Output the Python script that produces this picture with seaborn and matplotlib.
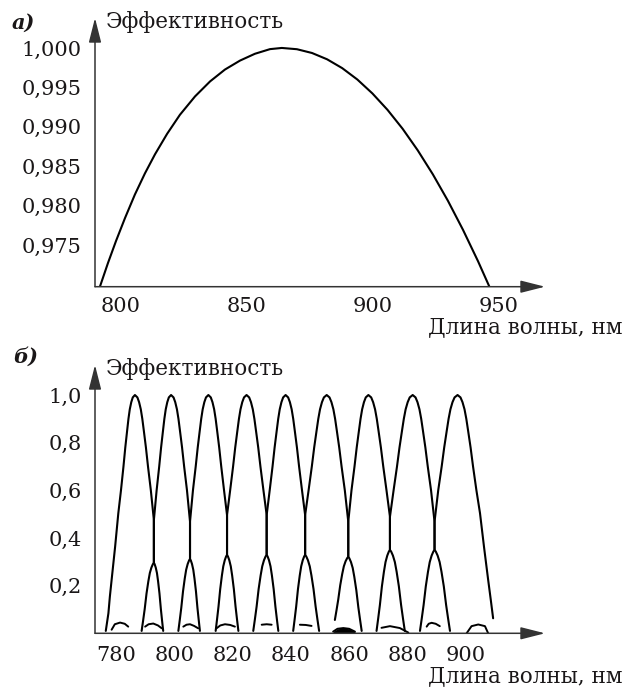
import matplotlib
matplotlib.use("Agg")
import matplotlib.pyplot as plt
import pandas as pd
import seaborn as sns

# ---------------- panel а : single efficiency curve ----------------
A_WAVELENGTH = [791.7, 794.9, 798.1, 801.7, 805.6, 809.6, 813.6, 818.4, 823.5,
                829.5, 835.5, 841.4, 847.4, 853.3, 859.3, 864.0, 870.0, 876.0,
                882.0, 888.0, 894.0, 900.0, 906.0, 912.0, 918.0, 924.0, 930.0,
                936.0, 942.0, 946.5]
A_EFFICIENCY = [0.96971, 0.97271, 0.97551, 0.97844, 0.98140, 0.98409, 0.98651,
                0.98910, 0.99152, 0.99385, 0.99576, 0.99726, 0.99840, 0.99926,
                0.99985, 1.00000, 0.99984, 0.99936, 0.99856, 0.99744, 0.99600,
                0.99423, 0.99215, 0.98975, 0.98702, 0.98398, 0.98062, 0.97693,
                0.97293, 0.96971]
A_XTICKS = [800, 850, 900, 950]
A_YTICKS = [0.975, 0.980, 0.985, 0.990, 0.995, 1.000]
A_YTICKLABELS = ["0,975", "0,980", "0,985", "0,990", "0,995", "1,000"]

# ---------------- panel б : comb of nine peaks ----------------
B_PEAK_CENTER = [786.5, 798.9, 811.7, 824.8, 838.2, 852.3, 866.6, 881.8, 897.2]
B_CROSS_X = [793.0, 805.4, 818.1, 831.7, 844.9, 859.7, 874.0, 889.3]
B_CROSS_TOP = [0.475, 0.468, 0.496, 0.496, 0.496, 0.468, 0.489, 0.468]
B_CROSS_BOTTOM = [0.296, 0.312, 0.329, 0.329, 0.329, 0.321, 0.350, 0.350]
B_LEFT_BASE_X = [776.5, 788.8, 801.4, 814.2, 827.1, 840.8, 855.1, 869.4, 884.3]
B_LEFT_BASE_Y = [0.010, 0.010, 0.010, 0.010, 0.010, 0.010, 0.056, 0.010, 0.010]
B_RIGHT_BASE_X = [796.2, 808.8, 822.0, 835.7, 849.7, 864.3, 879.1, 894.6, 909.4]
B_RIGHT_BASE_Y = [0.010, 0.010, 0.010, 0.010, 0.010, 0.010, 0.010, 0.010, 0.063]
# outer flanks (first peak left, last peak right) below the half level
B_OUTER_LEFT_X = [780.8, 779.7, 778.5, 777.9, 777.4, 776.5]
B_OUTER_LEFT_Y = [0.504, 0.363, 0.224, 0.154, 0.084, 0.010]
B_OUTER_RIGHT_X = [904.9, 906.3, 907.7, 908.6, 909.4]
B_OUTER_RIGHT_Y = [0.504, 0.360, 0.224, 0.140, 0.063]
# flank shape (height, share of the distance peak -> crossing)
FLANK_HEIGHT = [1.00, 0.99, 0.97, 0.94, 0.90, 0.85, 0.78, 0.70, 0.60]
FLANK_SHARE = [0.00, 0.13, 0.22, 0.31, 0.39, 0.47, 0.58, 0.69, 0.84]
# foot shape below a crossing (share of horizontal / vertical run to the base)
FOOT_SHARE_X = [0.08, 0.20, 0.33, 0.45, 0.60, 0.75, 0.88]
FOOT_SHARE_Y = [0.02, 0.07, 0.15, 0.27, 0.45, 0.68, 0.85]
# small side lobes near the baseline
LOBE_X = [[778.5, 779.6, 781.4, 783.0, 784.2],
          [790.0, 791.2, 792.8, 794.4, 795.7],
          [803.1, 804.2, 805.4, 806.8, 808.2],
          [814.5, 815.8, 817.4, 819.2, 820.8],
          [830.0, 831.7, 833.4],
          [843.1, 845.1, 847.1],
          [854.5, 856.0, 858.0, 860.0, 862.0],
          [871.1, 874.0, 877.4, 880.3],
          [886.6, 887.3, 888.3, 889.7, 891.1],
          [900.3, 902.0, 904.3, 906.6, 907.7]]
LOBE_Y = [[0.015, 0.038, 0.045, 0.040, 0.028],
          [0.028, 0.038, 0.041, 0.033, 0.021],
          [0.028, 0.036, 0.038, 0.031, 0.021],
          [0.021, 0.033, 0.038, 0.035, 0.028],
          [0.036, 0.038, 0.036],
          [0.036, 0.035, 0.031],
          [0.007, 0.019, 0.022, 0.019, 0.007],
          [0.023, 0.030, 0.022, 0.003],
          [0.028, 0.040, 0.044, 0.040, 0.030],
          [0.000, 0.030, 0.037, 0.030, 0.000]]
B_XTICKS = [780, 800, 820, 840, 860, 880, 900]
B_YTICKS = [0.2, 0.4, 0.6, 0.8, 1.0]
B_YTICKLABELS = ["0,2", "0,4", "0,6", "0,8", "1,0"]


def flank(center, cx, ctop):
    xs = [center + s * (cx - center) for s in FLANK_SHARE] + [cx]
    ys = list(FLANK_HEIGHT) + [ctop]
    return xs, ys


def foot(cx, cy, bx, by):
    xs = [cx + s * (bx - cx) for s in FOOT_SHARE_X] + [bx]
    ys = [cy + s * (by - cy) for s in FOOT_SHARE_Y] + [by]
    return [cx] + xs, [cy] + ys


rows = []
n = len(B_PEAK_CENTER)
for i, c in enumerate(B_PEAK_CENTER):
    if i == 0:
        lx, ly = flank(c, B_OUTER_LEFT_X[0], B_OUTER_LEFT_Y[0])
        lx += B_OUTER_LEFT_X[1:]
        ly += B_OUTER_LEFT_Y[1:]
    else:
        k = i - 1
        lx, ly = flank(c, B_CROSS_X[k], B_CROSS_TOP[k])
        fx_, fy_ = foot(B_CROSS_X[k], B_CROSS_BOTTOM[k], B_LEFT_BASE_X[i], B_LEFT_BASE_Y[i])
        lx += fx_
        ly += fy_
    if i == n - 1:
        rx, ry = flank(c, B_OUTER_RIGHT_X[0], B_OUTER_RIGHT_Y[0])
        rx += B_OUTER_RIGHT_X[1:]
        ry += B_OUTER_RIGHT_Y[1:]
    else:
        rx, ry = flank(c, B_CROSS_X[i], B_CROSS_TOP[i])
        fx_, fy_ = foot(B_CROSS_X[i], B_CROSS_BOTTOM[i], B_RIGHT_BASE_X[i], B_RIGHT_BASE_Y[i])
        rx += fx_
        ry += fy_
    xs = lx[::-1] + rx[1:]
    ys = ly[::-1] + ry[1:]
    for j, (x, y) in enumerate(zip(xs, ys)):
        rows.append({"peak": i, "order": j, "wl": x, "eff": y})
peaks_df = pd.DataFrame(rows)

lobe_rows = []
for i, (xs, ys) in enumerate(zip(LOBE_X, LOBE_Y)):
    for j, (x, y) in enumerate(zip(xs, ys)):
        lobe_rows.append({"lobe": i, "order": j, "wl": x, "eff": y})
lobes_df = pd.DataFrame(lobe_rows)

# ---------------- styling ----------------
sns.set_style("white")
plt.rcParams["font.family"] = ["DejaVu Serif"]
TEXT = "#1a1718"
AXC = "#333333"
TICK_SIZE = 15

W, H = 633, 688
fig = plt.figure(figsize=(W / 100, H / 100), dpi=100)


def fx(px):
    return px / W


def fy(py):
    return 1 - py / H


def setup_axis(ax):
    for s in ax.spines.values():
        s.set_visible(False)
    ax.grid(False)
    ax.set_xlabel("")
    ax.set_ylabel("")
    arrow = dict(arrowstyle="-|>,head_length=1.5,head_width=0.38", color=AXC,
                 lw=1.1, shrinkA=0, shrinkB=0, mutation_scale=10)
    ax.annotate("", xy=(1, 0), xytext=(0, 0), xycoords="axes fraction",
                textcoords="axes fraction", arrowprops=arrow, annotation_clip=False)
    ax.annotate("", xy=(0, 1), xytext=(0, 0), xycoords="axes fraction",
                textcoords="axes fraction", arrowprops=arrow, annotation_clip=False)
    for lab in ax.get_xticklabels() + ax.get_yticklabels():
        lab.set_fontsize(TICK_SIZE)
        lab.set_color(TEXT)


# ---- panel а ----
axA = fig.add_axes([fx(95), fy(286.7), fx(545) - fx(95), fy(18) - fy(286.7)])
axA.set_facecolor("none")
sns.lineplot(x=A_WAVELENGTH, y=A_EFFICIENCY, sort=False, estimator=None,
             color="black", lw=1.5, ax=axA)
axA.set_xlim(789.75, 968.6)
axA.set_ylim(0.96971, 1.0038)
axA.set_xticks(A_XTICKS)
axA.set_xticklabels([str(v) for v in A_XTICKS])
axA.set_yticks(A_YTICKS)
axA.set_yticklabels(A_YTICKLABELS)
axA.tick_params(axis="both", length=0)
axA.tick_params(axis="y", pad=9.5)
axA.tick_params(axis="x", pad=7.5)
setup_axis(axA)

# ---- panel б ----
axB = fig.add_axes([fx(95), fy(633.3), fx(545) - fx(95), fy(365) - fy(633.3)])
axB.set_facecolor("none")
sns.lineplot(data=peaks_df, x="wl", y="eff", units="peak", estimator=None,
             sort=False, color="black", lw=1.5, ax=axB, legend=False)
sns.lineplot(data=lobes_df, x="wl", y="eff", units="lobe", estimator=None,
             sort=False, color="black", lw=1.4, ax=axB, legend=False)
blob = lobes_df[lobes_df["lobe"] == 6]
axB.fill_between(blob["wl"], 0.0, blob["eff"], color="black", lw=0)
axB.set_xlim(772.8, 927.2)
axB.set_ylim(0.0, 1.126)
axB.set_xticks(B_XTICKS)
axB.set_xticklabels([str(v) for v in B_XTICKS])
axB.set_yticks(B_YTICKS)
axB.set_yticklabels(B_YTICKLABELS)
axB.tick_params(axis="both", length=0)
axB.tick_params(axis="y", pad=9.5)
axB.tick_params(axis="x", pad=9)
setup_axis(axB)

# ---- texts ----
LABEL_SIZE = 15.5
fig.text(fx(12), fy(23), "а)", fontsize=15, fontstyle="italic", fontweight="bold",
         color=TEXT, ha="left", va="center")
fig.text(fx(106), fy(22), "Эффективность", fontsize=LABEL_SIZE, color=TEXT,
         ha="left", va="center")
fig.text(fx(623), fy(327), "Длина волны, нм", fontsize=LABEL_SIZE, color=TEXT,
         ha="right", va="center")
fig.text(fx(13), fy(357), "б)", fontsize=15, fontstyle="italic", fontweight="bold",
         color=TEXT, ha="left", va="center")
fig.text(fx(106), fy(369), "Эффективность", fontsize=LABEL_SIZE, color=TEXT,
         ha="left", va="center")
fig.text(fx(623), fy(676), "Длина волны, нм", fontsize=LABEL_SIZE, color=TEXT,
         ha="right", va="center")

fig.savefig("out.png", dpi=100, facecolor="white")
